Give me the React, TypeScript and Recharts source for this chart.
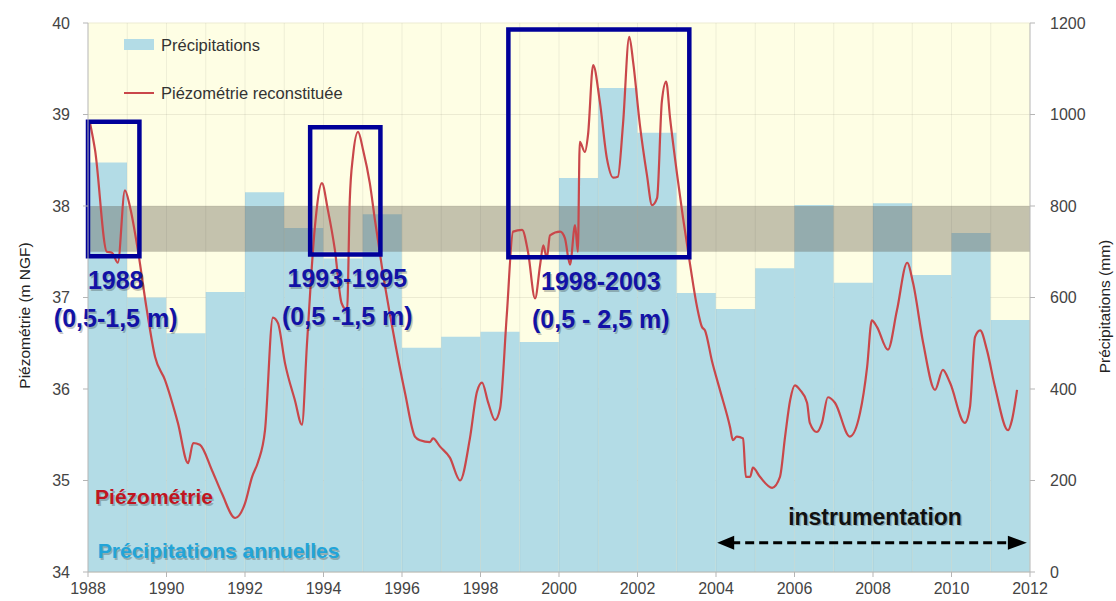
import {
  ComposedChart,
  Bar,
  Line,
  XAxis,
  YAxis,
  CartesianGrid,
  ReferenceArea,
  ReferenceLine,
  ReferenceDot,
  Legend,
} from "recharts";

const FONT = "'Liberation Sans', Arial, Helvetica, sans-serif";

// annual rainfall (mm), one bar per year
const precipYears = [
  1988, 1989, 1990, 1991, 1992, 1993, 1994, 1995, 1996, 1997, 1998, 1999,
  2000, 2001, 2002, 2003, 2004, 2005, 2006, 2007, 2008, 2009, 2010, 2011,
];
const precipMm = [
  895, 600, 522, 612, 830, 752, 685, 782, 490, 514, 525, 503,
  861, 1058, 960, 610, 575, 664, 802, 632, 806, 649, 741, 551,
];

// reconstructed groundwater level (m NGF)
const piezoTime = [
  1988.05, 1988.18, 1988.48, 1988.61, 1988.76, 1988.94, 1989.07, 1989.27, 1989.5, 1989.71,
  1989.96, 1990.29, 1990.55, 1990.68, 1990.85, 1991.16, 1991.41, 1991.75, 1992.0, 1992.18,
  1992.33, 1992.51, 1992.71, 1992.84, 1993.02, 1993.27, 1993.45, 1993.58, 1993.78, 1993.96,
  1994.11, 1994.29, 1994.46, 1994.6, 1994.67, 1994.75, 1994.88, 1995.01, 1995.18, 1995.31,
  1995.49, 1995.75, 1996.08, 1996.33, 1996.46, 1996.71, 1996.79, 1996.97, 1997.22, 1997.48,
  1997.73, 1997.91, 1998.04, 1998.19, 1998.37, 1998.5, 1998.67, 1998.83, 1999.06, 1999.21,
  1999.39, 1999.52, 1999.6, 1999.69, 1999.77, 2000.03, 2000.15, 2000.28, 2000.41, 2000.48,
  2000.53, 2000.66, 2000.74, 2000.87, 2001.04, 2001.22, 2001.38, 2001.5, 2001.63, 2001.79,
  2001.89, 2002.06, 2002.24, 2002.37, 2002.5, 2002.62, 2002.73, 2002.83, 2003.01, 2003.16,
  2003.34, 2003.52, 2003.64, 2003.72, 2003.9, 2004.1, 2004.36, 2004.43, 2004.53, 2004.69,
  2004.76, 2004.87, 2004.94, 2005.12, 2005.43, 2005.63, 2005.76, 2005.89, 2006.01, 2006.14,
  2006.32, 2006.39, 2006.57, 2006.7, 2006.85, 2007.03, 2007.41, 2007.67, 2007.85, 2007.97,
  2008.1, 2008.38, 2008.61, 2008.87, 2009.02, 2009.28, 2009.58, 2009.78, 2009.96, 2010.34,
  2010.47, 2010.6, 2010.73, 2010.9, 2011.11, 2011.44, 2011.54, 2011.67,
];
const piezoLevel = [
  38.91, 38.61, 37.5, 37.49, 37.38, 38.17, 37.99, 37.52, 36.86, 36.35,
  36.1, 35.63, 35.19, 35.41, 35.39, 35.11, 34.86, 34.59, 34.75, 35.04,
  35.2, 35.55, 36.78, 36.72, 36.28, 35.88, 35.61, 36.5, 37.77, 38.25,
  37.96, 37.52, 36.94, 36.86, 38.07, 38.54, 38.81, 38.61, 38.25, 37.85,
  37.33, 36.68, 35.95, 35.48, 35.44, 35.42, 35.46, 35.37, 35.25, 35.0,
  35.46, 35.97, 36.07, 35.86, 35.66, 35.79, 36.81, 37.72, 37.74, 37.5,
  36.99, 37.36, 37.57, 37.43, 37.68, 37.72, 37.65, 37.36, 37.79, 37.5,
  38.7, 38.59, 38.78, 39.54, 39.14, 38.52, 38.31, 38.32, 38.89, 39.85,
  39.57, 38.89, 38.34, 38.01, 38.09, 39.14, 39.36, 38.96, 38.34, 37.87,
  37.36, 36.89, 36.68, 36.64, 36.3, 35.99, 35.58, 35.44, 35.48, 35.46,
  35.04, 35.04, 35.14, 35.04, 34.92, 35.04, 35.48, 35.88, 36.04, 35.99,
  35.85, 35.63, 35.53, 35.63, 35.91, 35.85, 35.48, 35.74, 36.24, 36.75,
  36.68, 36.43, 36.86, 37.38, 37.16, 36.5, 35.99, 36.21, 36.07, 35.63,
  35.8, 36.57, 36.64, 36.43, 36.02, 35.55, 35.66, 35.99,
];

const xTicks = [1988, 1990, 1992, 1994, 1996, 1998, 2000, 2002, 2004, 2006, 2008, 2010, 2012];
const leftTicks = [34, 35, 36, 37, 38, 39, 40];
const rightTicks = [0, 200, 400, 600, 800, 1000, 1200];
const yearLines = precipYears.slice(1);

// high-water episodes (boxes)
const periodTitle = ["1988", "1993-1995", "1998-2003"];
const periodRange = ["(0,5-1,5 m)", "(0,5 -1,5 m)", "(0,5 - 2,5 m)"];
const periodStart = [1988, 1993.66, 1998.71];
const periodEnd = [1989.31, 1995.45, 2003.32];
const periodLow = [37.45, 37.47, 37.44];
const periodHigh = [38.92, 38.86, 39.93];

const BAR_COLOR = "#b3dce6";
const LINE_COLOR = "#c9474a";
const BOX_COLOR = "#000099";

const barData = precipYears.map((year, i) => ({ year, precip: precipMm[i] }));
const lineData = piezoTime.map((t, i) => ({ t, level: piezoLevel[i] }));

const ShadowText = ({ x, y, text, color, size, anchor = "start" }: any) => (
  <g style={{ fontFamily: FONT, fontWeight: 700, fontSize: size }}>
    <text x={x + 1.5} y={y + 1.5} fill="#000" opacity={0.22} textAnchor={anchor}>
      {text}
    </text>
    <text x={x} y={y} fill={color} textAnchor={anchor}>
      {text}
    </text>
  </g>
);

const LegendBox = ({ payload }: any) => {
  // bars first, like the original legend
  const items = [...(payload || [])].sort(
    (a: any, b: any) => (a.type === "line" ? 1 : 0) - (b.type === "line" ? 1 : 0)
  );
  return (
    <div style={{ fontFamily: FONT, fontSize: 16.5, color: "#333" }}>
      {items.map((e: any, i: number) => (
        <div key={i} style={{ display: "flex", alignItems: "center", height: 48 }}>
          <svg width={30} height={12} style={{ marginRight: 7 }}>
            {e.type === "line" ? (
              <line x1={0} x2={30} y1={6} y2={6} stroke={e.color} strokeWidth={2} />
            ) : (
              <rect x={0} y={0} width={30} height={11} fill={e.color} />
            )}
          </svg>
          <span>{e.value}</span>
        </div>
      ))}
    </div>
  );
};

const axisTitle = (text: string, dxFromAxis: number, shift: number) => (props: any) => {
  const vb = props.viewBox || {};
  const x = vb.x + dxFromAxis;
  const y = vb.y + vb.height / 2 + shift;
  return (
    <text
      x={x}
      y={y}
      transform={`rotate(-90, ${x}, ${y})`}
      textAnchor="middle"
      dominantBaseline="central"
      style={{ fontFamily: FONT, fontSize: 15.5, fill: "#222" }}
    >
      {text}
    </text>
  );
};

const periodLabel = (i: number) => (props: any) => {
  const vb = props.viewBox || {};
  const cx = vb.x + vb.width / 2 + 2;
  const bottom = vb.y + vb.height;
  return (
    <g>
      <ShadowText x={cx} y={bottom + 33} text={periodTitle[i]} color="#1212a6" size={25} anchor="middle" />
      <ShadowText x={cx} y={bottom + 71} text={periodRange[i]} color="#1212a6" size={25} anchor="middle" />
    </g>
  );
};

const instrumentArrow = (props: any) => {
  const { x1, y1, x2, y2 } = props;
  return (
    <g>
      <line x1={x1 + 14} y1={y1} x2={x2 - 16} y2={y2} stroke="#000" strokeWidth={3} strokeDasharray="9 5" />
      <polygon points={`${x1},${y1} ${x1 + 17},${y1 - 7} ${x1 + 17},${y1 + 7}`} fill="#000" />
      <polygon points={`${x2},${y2} ${x2 - 19},${y2 - 7} ${x2 - 19},${y2 + 7}`} fill="#000" />
      <ShadowText x={(x1 + x2) / 2 + 3} y={y1 - 18} text="instrumentation" color="#111" size={23} anchor="middle" />
    </g>
  );
};

export default function App() {
  return (
    <div style={{ position: "absolute", left: 0, top: 0, background: "#fff" }}>
      <ComposedChart
        width={1116}
        height={601}
        data={barData}
        barCategoryGap={0}
        barGap={0}
        margin={{ top: 23, right: 0, bottom: 0, left: 0 }}
      >
        <CartesianGrid
          yAxisId="left"
          xAxisId="t"
          vertical={false}
          stroke="#ecebd2"
          fill="#fefee4"
          fillOpacity={1}
        />
        <XAxis
          xAxisId="t"
          type="number"
          dataKey="t"
          domain={[1988, 2012]}
          ticks={xTicks}
          allowDataOverflow
          height={29}
          tickSize={5}
          tickMargin={6}
          stroke="#b5b5b5"
          tick={{ fill: "#444", fontSize: 16, fontFamily: FONT }}
        />
        <XAxis xAxisId="cat" dataKey="year" type="category" hide height={0} />
        <YAxis
          yAxisId="left"
          orientation="left"
          domain={[34, 40]}
          ticks={leftTicks}
          width={88}
          tickSize={5}
          tickMargin={13}
          stroke="#b5b5b5"
          tick={{ fill: "#444", fontSize: 16, fontFamily: FONT }}
          label={axisTitle("Piézométrie (m NGF)", 24, 18)}
        />
        <YAxis
          yAxisId="right"
          orientation="right"
          domain={[0, 1200]}
          ticks={rightTicks}
          width={86}
          tickSize={5}
          tickMargin={15}
          stroke="#b5b5b5"
          tick={{ fill: "#444", fontSize: 16, fontFamily: FONT, textAnchor: "start" }}
          label={axisTitle("Précipitations (mm)", 74, 9)}
        />
        <Legend
          layout="vertical"
          align="center"
          verticalAlign="middle"
          content={<LegendBox />}
          wrapperStyle={{ left: 124, top: 21, width: 320, height: 100 }}
        />
        <Bar
          xAxisId="cat"
          yAxisId="right"
          dataKey="precip"
          name="Précipitations"
          fill={BAR_COLOR}
          isAnimationActive={false}
        />
        {yearLines.map((yr) => (
          <ReferenceLine
            key={yr}
            xAxisId="t"
            yAxisId="left"
            x={yr}
            stroke="rgba(60,60,60,0.08)"
            strokeWidth={1}
          />
        ))}
        <ReferenceArea
          xAxisId="t"
          yAxisId="left"
          x1={1988}
          x2={2012}
          y1={37.5}
          y2={38}
          fill="#5f5a4b"
          fillOpacity={0.36}
          stroke="none"
          zIndex={350}
          isFront
        />
        <Line
          xAxisId="t"
          yAxisId="left"
          data={lineData}
          dataKey="level"
          name="Piézométrie reconstituée"
          type="monotone"
          stroke={LINE_COLOR}
          strokeWidth={2.2}
          dot={false}
          legendType="line"
          isAnimationActive={false}
        />
        {periodTitle.map((_, i) => (
          <ReferenceArea
            key={i}
            xAxisId="t"
            yAxisId="left"
            x1={periodStart[i]}
            x2={periodEnd[i]}
            y1={periodLow[i]}
            y2={periodHigh[i]}
            fill="none"
            fillOpacity={0}
            stroke={BOX_COLOR}
            strokeWidth={4.5}
            ifOverflow="visible"
            zIndex={450}
            isFront
            label={periodLabel(i)}
          />
        ))}
        <ReferenceDot
          xAxisId="t"
          yAxisId="left"
          x={1988.18}
          y={34.74}
          r={0}
          shape={(p: any) => <ShadowText x={p.cx} y={p.cy} text="Piézométrie" color="#c0151f" size={21} />}
        />
        <ReferenceDot
          xAxisId="t"
          yAxisId="left"
          x={1988.25}
          y={34.15}
          r={0}
          shape={(p: any) => (
            <ShadowText x={p.cx} y={p.cy} text="Précipitations annuelles" color="#22a4d8" size={21} />
          )}
        />
        <ReferenceLine
          xAxisId="t"
          yAxisId="left"
          segment={[
            { x: 2004.03, y: 34.32 },
            { x: 2011.92, y: 34.32 },
          ]}
          shape={instrumentArrow}
        />
      </ComposedChart>
    </div>
  );
}
